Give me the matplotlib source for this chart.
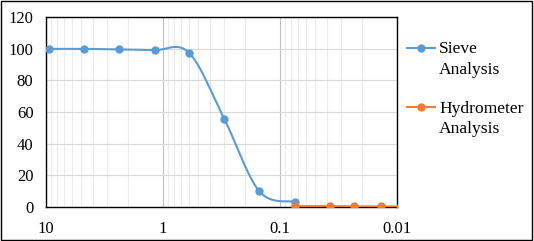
import numpy as np
import matplotlib
matplotlib.use("Agg")
import matplotlib.pyplot as plt
from matplotlib.lines import Line2D
from matplotlib.patches import Rectangle

# data (grain size in mm, percent finer)
sieve_size = [9.5, 4.75, 2.36, 1.18, 0.6, 0.3, 0.15, 0.075]
sieve_pass = [100, 100, 99.6, 99.2, 97.6, 55.8, 9.7, 3.2]
hydro_size = [0.075, 0.037, 0.0235, 0.0136, 0.0095]
hydro_pass = [0.4, 0.4, 0.2, 0.2, 0.1]

blue = "#5B9BD5"
orange = "#ED7D31"

plt.rcParams["font.family"] = ["Liberation Serif", "DejaVu Serif"]


def smooth(xs, ys, n=40):
    """Excel-like smoothed line: Catmull-Rom through points in screen-ish space."""
    u = np.log10(xs) * 117.0
    v = np.asarray(ys, dtype=float) * 1.578
    P = np.column_stack([u, v])
    P = np.vstack([P[0], P, P[-1]])
    out = []
    for i in range(1, len(P) - 2):
        p0, p1, p2, p3 = P[i - 1], P[i], P[i + 1], P[i + 2]
        c1 = p1 + (p2 - p0) / 6.0
        c2 = p2 - (p3 - p1) / 6.0
        t = np.linspace(0, 1, n)[:, None]
        seg = ((1 - t) ** 3) * p1 + 3 * ((1 - t) ** 2) * t * c1 + 3 * (1 - t) * t ** 2 * c2 + t ** 3 * p2
        out.append(seg)
    seg = np.vstack(out)
    return 10 ** (seg[:, 0] / 117.0), seg[:, 1] / 1.578


fig = plt.figure(figsize=(5.34, 2.41), dpi=100)
ax = fig.add_axes([0.0861, 0.1423, 0.6573, 0.786])

ax.set_xscale("log")
ax.set_xlim(10, 0.01)
ax.set_ylim(0, 120)

sx, sy = smooth(sieve_size, sieve_pass)
ax.plot(sx, sy, color=blue, lw=1.5, zorder=3, clip_on=True)
ax.plot(sieve_size, sieve_pass, "o", color=blue, ms=5, zorder=4, clip_on=True)

hx, hy = smooth(hydro_size, hydro_pass)
ax.plot(hx, hy, color=orange, lw=1.5, zorder=3, clip_on=True)
ax.plot(hydro_size, hydro_pass, "o", color=orange, ms=5, zorder=4, clip_on=True)

# gridlines
ax.set_yticks([0, 20, 40, 60, 80, 100, 120])
ax.set_xticks([10, 1, 0.1, 0.01])
ax.set_xticklabels(["10", "1", "0.1", "0.01"])
ax.xaxis.set_minor_locator(matplotlib.ticker.LogLocator(base=10, subs=np.arange(2, 10)))
ax.xaxis.set_minor_formatter(matplotlib.ticker.NullFormatter())
ax.grid(axis="y", which="major", color="#d9d9d9", lw=0.8)
ax.grid(axis="x", which="major", color="#bfbfbf", lw=0.8)
ax.grid(axis="x", which="minor", color="#ebebeb", lw=0.8)
ax.set_axisbelow(True)
ax.tick_params(which="both", length=0, labelsize=12, colors="black")
ax.tick_params(axis="y", pad=9)
ax.tick_params(axis="x", pad=10)
for s in ax.spines.values():
    s.set_color("black")
    s.set_linewidth(1.0)

# legend drawn by hand so the handle sits on the first text line
entries = [(["Sieve", "Analysis"], blue, 0.7996, [0.779, 0.693]),
           (["Hydrometer", "Analysis"], orange, 0.555, [0.530, 0.447])]
for lines, c, yy, bases in entries:
    fig.add_artist(Line2D([0.762, 0.815], [yy, yy], color=c, lw=1.5))
    fig.add_artist(Line2D([0.7885], [yy], marker="o", color=c, ms=5))
    for txt, b in zip(lines, bases):
        fig.text(0.8227, b, txt, fontsize=12.6, va="baseline", ha="left")

# outer border
fig.add_artist(Rectangle((0.002, 0.004), 0.995, 0.99, transform=fig.transFigure,
                         fill=False, edgecolor="black", lw=1.0))

fig.savefig("out.png", dpi=100)
